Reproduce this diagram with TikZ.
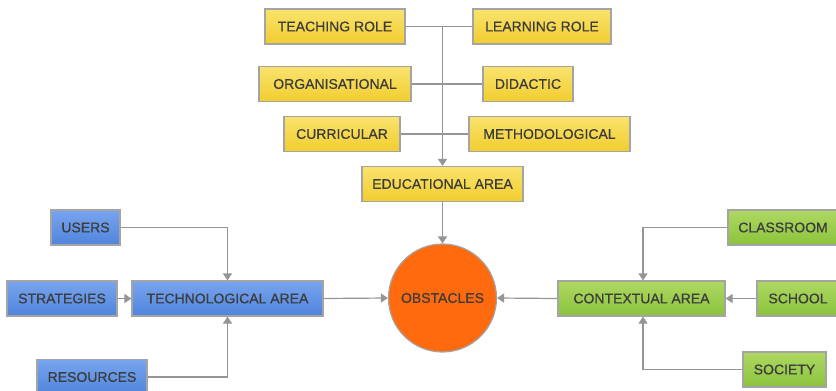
\documentclass[tikz,border=0pt]{standalone}
\usepackage{fontspec}
\setmainfont{Liberation Sans}
\newfontfamily\boxfont[FakeBold=0.6]{Liberation Sans}
\usetikzlibrary{arrows.meta}
\definecolor{edge}{HTML}{A4A4A4}
\definecolor{conn}{HTML}{959595}
\definecolor{txt}{HTML}{3C3C3C}
\definecolor{yelT}{HTML}{FAE36E}
\definecolor{yelB}{HTML}{F1CD2E}
\definecolor{bluT}{HTML}{78A4EE}
\definecolor{bluB}{HTML}{4F85DC}
\definecolor{grnT}{HTML}{AED862}
\definecolor{grnB}{HTML}{8BC33D}
\definecolor{orn}{HTML}{FF6A0E}
\tikzset{
  x=1pt, y=-1pt,
  box/.style={draw=edge, line width=1.2pt, minimum height=35pt, inner sep=0pt,
    text=txt, font=\boxfont\fontsize{14}{16}\selectfont, anchor=center},
  ybox/.style={box, top color=yelT, bottom color=yelB},
  bbox/.style={box, top color=bluT, bottom color=bluB},
  gbox/.style={box, top color=grnT, bottom color=grnB},
  conline/.style={draw=conn, line width=1.2pt},
  arr/.style={conline, -{Triangle[width=9pt,length=7pt]}},
}
\begin{document}
\begin{tikzpicture}
\useasboundingbox (0,0) rectangle (836,391);
% yellow
\node[ybox, minimum width=140pt] (teach) at (335,26.5) {TEACHING ROLE};
\node[ybox, minimum width=138pt] (learn) at (542,26.5) {LEARNING ROLE};
\node[ybox, minimum width=152pt] (org) at (335,84) {ORGANISATIONAL};
\node[ybox, minimum width=90pt] (did) at (528,84) {DIDACTIC};
\node[ybox, minimum width=116pt] (cur) at (342,134) {CURRICULAR};
\node[ybox, minimum width=161pt] (met) at (549.5,134) {METHODOLOGICAL};
\node[ybox, minimum width=161pt] (edu) at (442.5,184) {EDUCATIONAL AREA};
% circle
\node[circle, draw=edge, line width=1.2pt, fill=orn, minimum size=108pt, inner sep=0pt,
  text=txt, font=\boxfont\fontsize{14}{16}\selectfont] (obs) at (442.5,298) {OBSTACLES};
% blue
\node[bbox, minimum width=69pt] (users) at (85.5,227.5) {USERS};
\node[bbox, minimum width=110pt] (strat) at (62,298.5) {STRATEGIES};
\node[bbox, minimum width=191pt] (tech) at (227.5,298.5) {TECHNOLOGICAL AREA};
\node[bbox, minimum width=110pt] (res) at (92,377) {RESOURCES};
% green
\node[gbox, minimum width=167pt] (ctx) at (641.5,298.5) {CONTEXTUAL AREA};
\node[gbox, minimum width=110pt] (class) at (783,227.5) {CLASSROOM};
\node[gbox, minimum width=82pt] (school) at (798,298.5) {SCHOOL};
\node[gbox, minimum width=83pt] (soc) at (784.5,369.5) {SOCIETY};
% educational connectors
\coordinate (top) at (edu.north |- teach.east);
\draw[conline] (teach.east) -- (learn.west);
\draw[conline] (org.east) -- (did.west);
\draw[conline] (cur.east) -- (met.west);
\draw[arr] (top) -- (edu.north);
\draw[arr] (edu.south) -- (obs.north);
% technological
\draw[arr] (users.east) -| (tech.north);
\draw[arr] (res.east) -| (tech.south);
\draw[arr] (strat.east) -- (tech.west);
\draw[arr] (tech.east) -- (obs.west);
% contextual
\draw[arr] (class.west) -| ([xshift=1.5pt]ctx.north);
\draw[arr] (soc.west) -| ([xshift=1.5pt]ctx.south);
\draw[arr] (school.west) -- (ctx.east);
\draw[arr] (ctx.west) -- (obs.east);
\end{tikzpicture}
\end{document}
